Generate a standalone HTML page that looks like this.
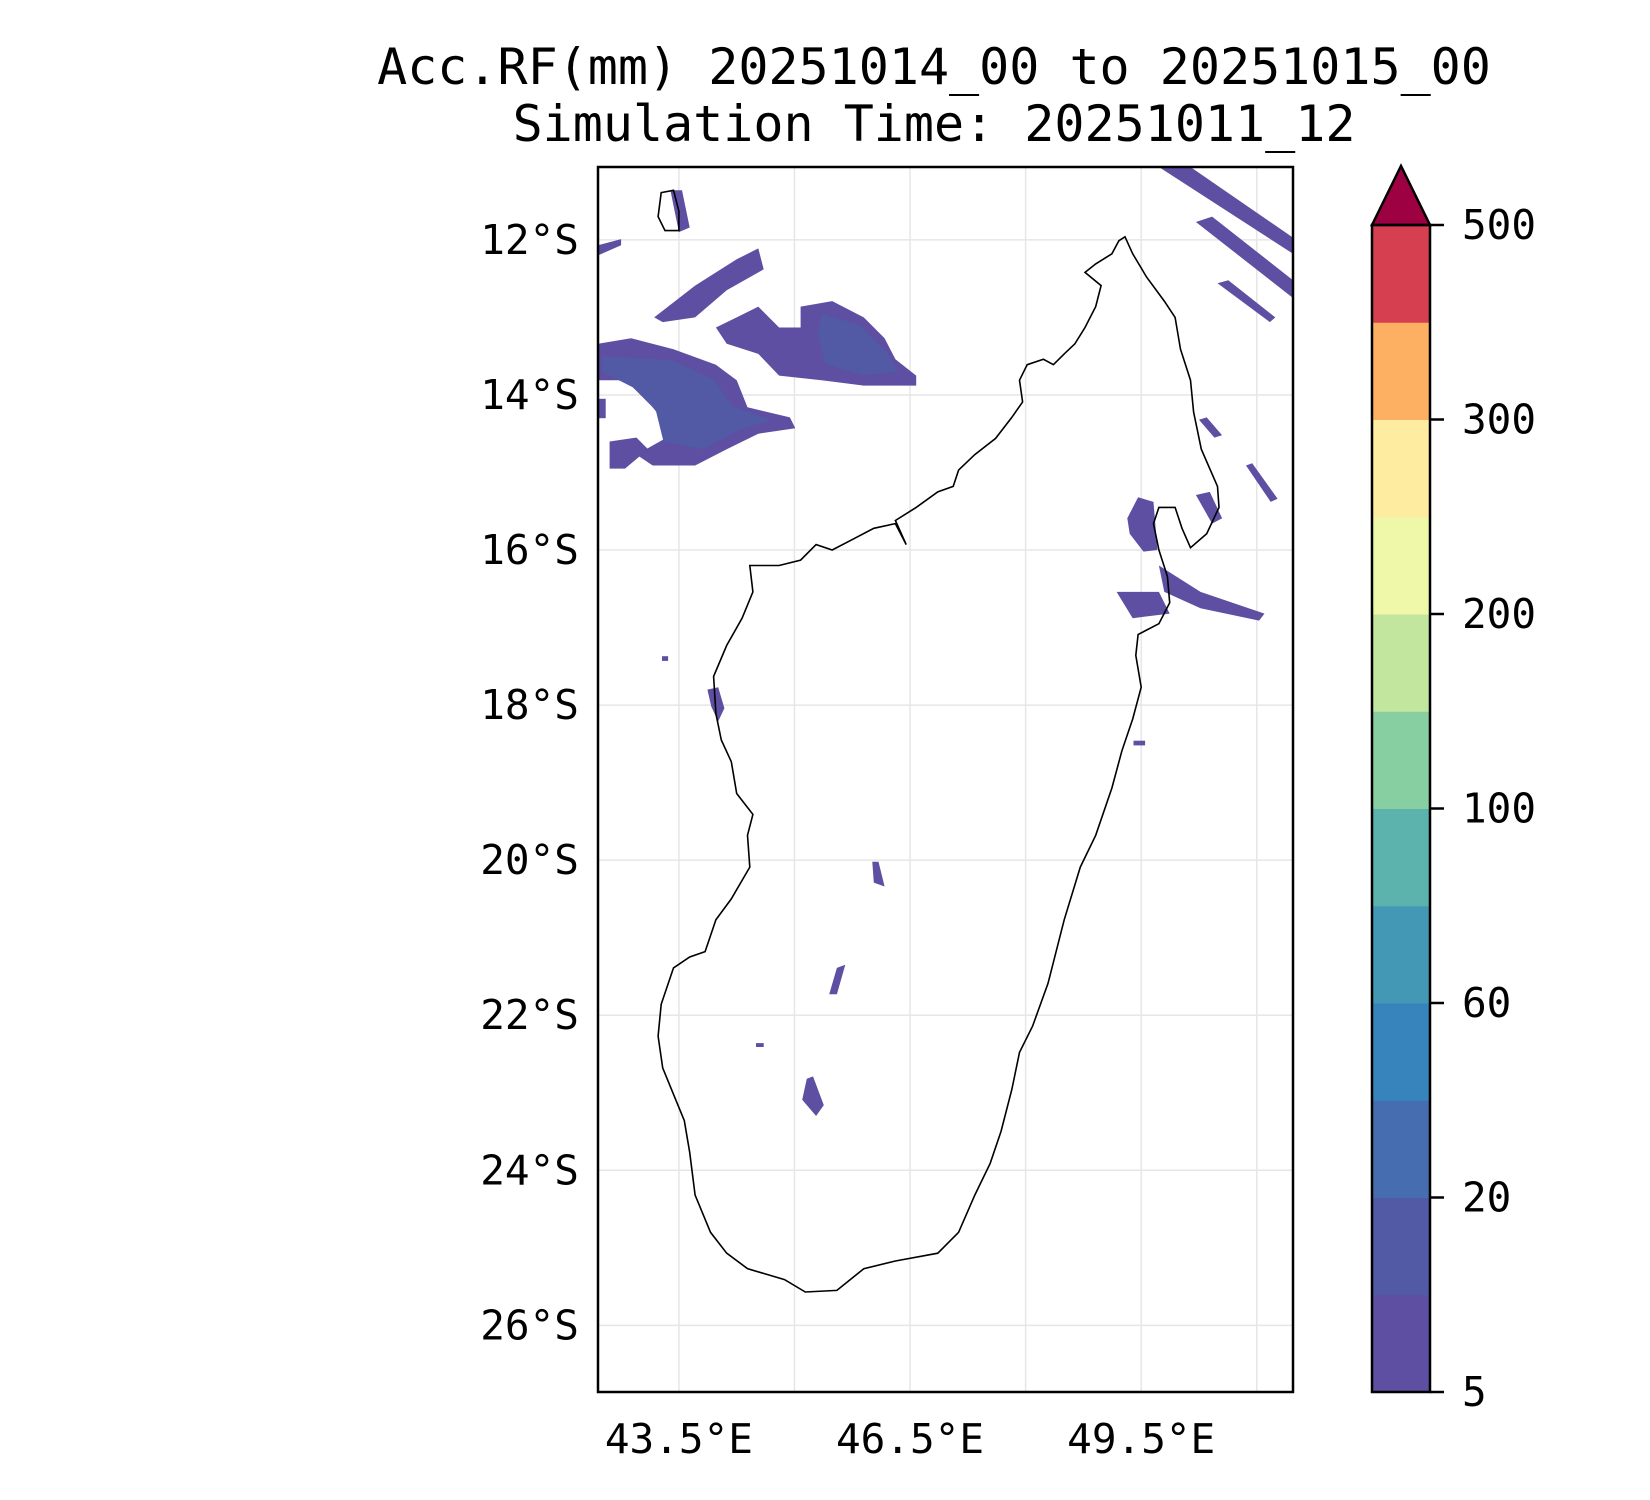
<!DOCTYPE html>
<html><head><meta charset="utf-8"><style>
html,body{margin:0;padding:0;background:#fff;}
svg{display:block;font-family:"DejaVu Sans Mono","Liberation Mono",monospace;}
</style></head><body>
<svg id="chart" width="1650" height="1500" viewBox="0 0 1650 1500">
<text x="934" y="84" font-size="50" text-anchor="middle">Acc.RF(mm) 20251014_00 to 20251015_00</text>
<text x="934" y="141" font-size="50" text-anchor="middle">Simulation Time: 20251011_12</text>
<g id="grid"></g>
<g id="rain"></g>
<g id="coast"></g>
<rect x="598" y="167" width="695" height="1225" fill="none" stroke="#000" stroke-width="2.5"/>
<g id="axes"></g>
<g id="cbar"></g>
</svg>
<script>
const lonTicks=[43.5,46.5,49.5];
const lonGrid=[43.5,45,46.5,48,49.5,51];
const latTicks=[12,14,16,18,20,22,24,26];
const cbarLabels=['5','20','60','100','200','300','500'];
const cbarColors=['#5e4fa2','#5259a5','#466db0','#3783bb','#4399b5','#5cb2ad','#87cea1','#c3e69f','#eef8a8','#feeca0','#fdb062','#d63f4f'];
const extendColor='#9e0142';
const coastline=[[49.29,11.96],[49.39,12.18],[49.57,12.48],[49.80,12.79],[49.94,13.00],[50.01,13.41],[50.14,13.81],[50.18,14.22],[50.28,14.70],[50.49,15.18],[50.51,15.45],[50.35,15.79],[50.14,15.97],[50.03,15.72],[49.94,15.45],[49.73,15.45],[49.66,15.66],[49.73,16.00],[49.84,16.34],[49.87,16.68],[49.73,16.95],[49.46,17.09],[49.43,17.36],[49.50,17.77],[49.39,18.18],[49.25,18.59],[49.12,19.07],[48.91,19.68],[48.71,20.09],[48.50,20.77],[48.29,21.59],[48.09,22.14],[47.92,22.48],[47.82,22.96],[47.68,23.50],[47.54,23.91],[47.34,24.32],[47.13,24.80],[46.86,25.07],[46.31,25.17],[45.90,25.27],[45.55,25.55],[45.14,25.57],[44.87,25.41],[44.39,25.27],[44.12,25.07],[43.91,24.80],[43.71,24.32],[43.64,23.77],[43.57,23.36],[43.43,23.02],[43.29,22.68],[43.23,22.27],[43.27,21.86],[43.43,21.39],[43.64,21.25],[43.84,21.18],[43.98,20.77],[44.18,20.50],[44.42,20.09],[44.39,19.68],[44.46,19.41],[44.25,19.14],[44.18,18.73],[44.05,18.45],[43.98,18.11],[43.95,17.63],[44.12,17.23],[44.32,16.88],[44.46,16.54],[44.42,16.20],[44.80,16.20],[45.08,16.13],[45.28,15.93],[45.49,16.00],[45.76,15.86],[46.03,15.72],[46.31,15.66],[46.45,15.93],[46.31,15.62],[46.58,15.45],[46.86,15.25],[47.06,15.18],[47.13,14.97],[47.34,14.77],[47.61,14.56],[47.82,14.29],[47.96,14.09],[47.92,13.81],[48.02,13.61],[48.23,13.54],[48.36,13.61],[48.50,13.47],[48.64,13.34],[48.77,13.13],[48.91,12.86],[48.98,12.59],[48.77,12.42],[48.91,12.31],[49.12,12.18],[49.21,12.01]];
const comoro=[[43.27,11.39],[43.43,11.36],[43.50,11.63],[43.50,11.88],[43.32,11.88],[43.23,11.70]];
const rainLow=[
[[42.45,13.34],[42.88,13.27],[43.43,13.41],[43.98,13.61],[44.25,13.81],[44.39,14.16],[44.94,14.29],[45.01,14.43],[44.53,14.50],[44.12,14.70],[43.71,14.91],[43.16,14.91],[42.95,14.77],[43.43,14.50],[43.16,14.16],[42.88,13.81],[42.45,13.81]],
[[45.08,12.86],[45.49,12.79],[45.90,13.00],[46.17,13.27],[46.31,13.54],[46.58,13.75],[46.58,13.88],[45.90,13.88],[45.35,13.81],[44.80,13.75],[44.53,13.47],[44.12,13.34],[43.98,13.13],[44.25,13.00],[44.53,12.86],[44.80,13.13],[45.08,13.13]],
[[43.18,13.00],[43.71,12.59],[44.25,12.25],[44.53,12.11],[44.60,12.38],[44.12,12.65],[43.71,13.00],[43.29,13.06]],
[[43.39,11.36],[43.54,11.36],[43.64,11.84],[43.50,11.90]],
[[42.45,12.07],[42.75,11.99],[42.75,12.07],[42.45,12.20]],
[[42.60,14.60],[42.95,14.55],[43.10,14.70],[42.80,14.95],[42.60,14.95]],
[[42.45,14.05],[42.55,14.05],[42.55,14.30],[42.45,14.30]],
[[49.73,11.06],[50.14,11.06],[51.47,11.97],[51.47,12.18]],
[[50.21,11.77],[50.42,11.70],[51.47,12.52],[51.47,12.75]],
[[50.49,12.56],[50.63,12.52],[51.24,13.00],[51.17,13.06]],
[[50.25,14.32],[50.35,14.29],[50.55,14.52],[50.45,14.55]],
[[50.86,14.91],[50.94,14.88],[51.27,15.34],[51.18,15.38]],
[[50.21,15.29],[50.39,15.25],[50.55,15.59],[50.42,15.66]],
[[49.32,15.59],[49.46,15.32],[49.66,15.38],[49.71,16.00],[49.53,16.02],[49.35,15.79]],
[[49.18,16.54],[49.73,16.54],[49.87,16.82],[49.39,16.88]],
[[49.73,16.20],[50.27,16.54],[51.10,16.82],[51.03,16.91],[50.27,16.75],[49.80,16.54]],
[[43.87,17.80],[44.01,17.77],[44.09,18.04],[44.01,18.21],[43.92,18.02]],
[[46.01,20.02],[46.09,20.02],[46.17,20.34],[46.03,20.29]],
[[45.55,21.39],[45.66,21.35],[45.55,21.73],[45.45,21.73]],
[[45.16,22.82],[45.24,22.79],[45.38,23.16],[45.28,23.30],[45.10,23.09]],
[[43.28,17.37],[43.36,17.37],[43.36,17.43],[43.28,17.43]],
[[44.50,22.36],[44.60,22.36],[44.60,22.41],[44.50,22.41]],
[[49.40,18.46],[49.55,18.46],[49.55,18.52],[49.40,18.52]]
];
const rainMid=[
[[42.50,13.50],[43.40,13.55],[43.95,13.80],[44.20,14.15],[44.70,14.32],[44.30,14.45],[43.80,14.70],[43.30,14.60],[43.20,14.20],[42.90,13.90],[42.50,13.70]],
[[45.35,12.95],[45.85,13.10],[46.20,13.45],[46.35,13.70],[45.90,13.75],[45.40,13.60],[45.30,13.20]]
];
const lon0=42.45,lon1=51.47,lat0=11.06,lat1=26.86;
const X=lon=>598+(lon-lon0)/(lon1-lon0)*695;
const Y=lat=>167+(lat-lat0)/(lat1-lat0)*1225;
const NS='http://www.w3.org/2000/svg';
function mk(tag,attrs,parent){const e=document.createElementNS(NS,tag);for(const k in attrs)e.setAttribute(k,attrs[k]);parent.appendChild(e);return e;}
const pts=a=>a.map(p=>X(p[0]).toFixed(1)+','+Y(p[1]).toFixed(1)).join(' ');
const grid=document.getElementById('grid');
lonGrid.forEach(v=>{const l=mk('line',{x1:X(v),x2:X(v),y1:167,y2:1392,stroke:'#e6e6e6','stroke-width':1.5},grid);

});
latTicks.forEach(v=>{const l=mk('line',{x1:598,x2:1293,y1:Y(v),y2:Y(v),stroke:'#e6e6e6','stroke-width':1.5},grid);

});
const rain=document.getElementById('rain');
rainLow.forEach(p=>{const e=mk('polygon',{points:pts(p),fill:'#5e4fa2'},rain);

});
rainMid.forEach(p=>{const e=mk('polygon',{points:pts(p),fill:'#5259a5'},rain);

});
const coast=document.getElementById('coast');
const c=mk('polygon',{points:pts(coastline),fill:'none',stroke:'#000','stroke-width':1.6},coast);


const c2=mk('polygon',{points:pts(comoro),fill:'none',stroke:'#000','stroke-width':1.6},coast);


const axes=document.getElementById('axes');
latTicks.forEach(v=>{const t=mk('text',{x:579,y:Y(v)+14,'font-size':41,'text-anchor':'end'},axes);t.textContent=v+'°S';

});
lonTicks.forEach(v=>{const t=mk('text',{x:X(v),y:1453,'font-size':41,'text-anchor':'middle'},axes);t.textContent=v.toFixed(1)+'°E';

});
const cb=document.getElementById('cbar');
const cx=1372,cw=58,ctop=225,cbot=1392,bh=(cbot-ctop)/cbarColors.length;
cbarColors.forEach((col,i)=>{const r=mk('rect',{x:cx,y:cbot-(i+1)*bh,width:cw,height:bh+0.5,fill:col},cb);

});
const tri=mk('polygon',{points:`${cx},${ctop} ${cx+cw/2},166 ${cx+cw},${ctop}`,fill:extendColor,stroke:'#000','stroke-width':2.5},cb);


const fr=mk('rect',{x:cx,y:ctop,width:cw,height:cbot-ctop,fill:'none',stroke:'#000','stroke-width':2.5},cb);


cbarLabels.forEach((s,i)=>{const y=cbot-i*2*bh;
const tk=mk('line',{x1:cx+cw,x2:cx+cw+14,y1:y,y2:y,stroke:'#000','stroke-width':2.5},cb);


const t=mk('text',{x:1462,y:y+14,'font-size':41},cb);t.textContent=s;

});
</script>
</body></html>
